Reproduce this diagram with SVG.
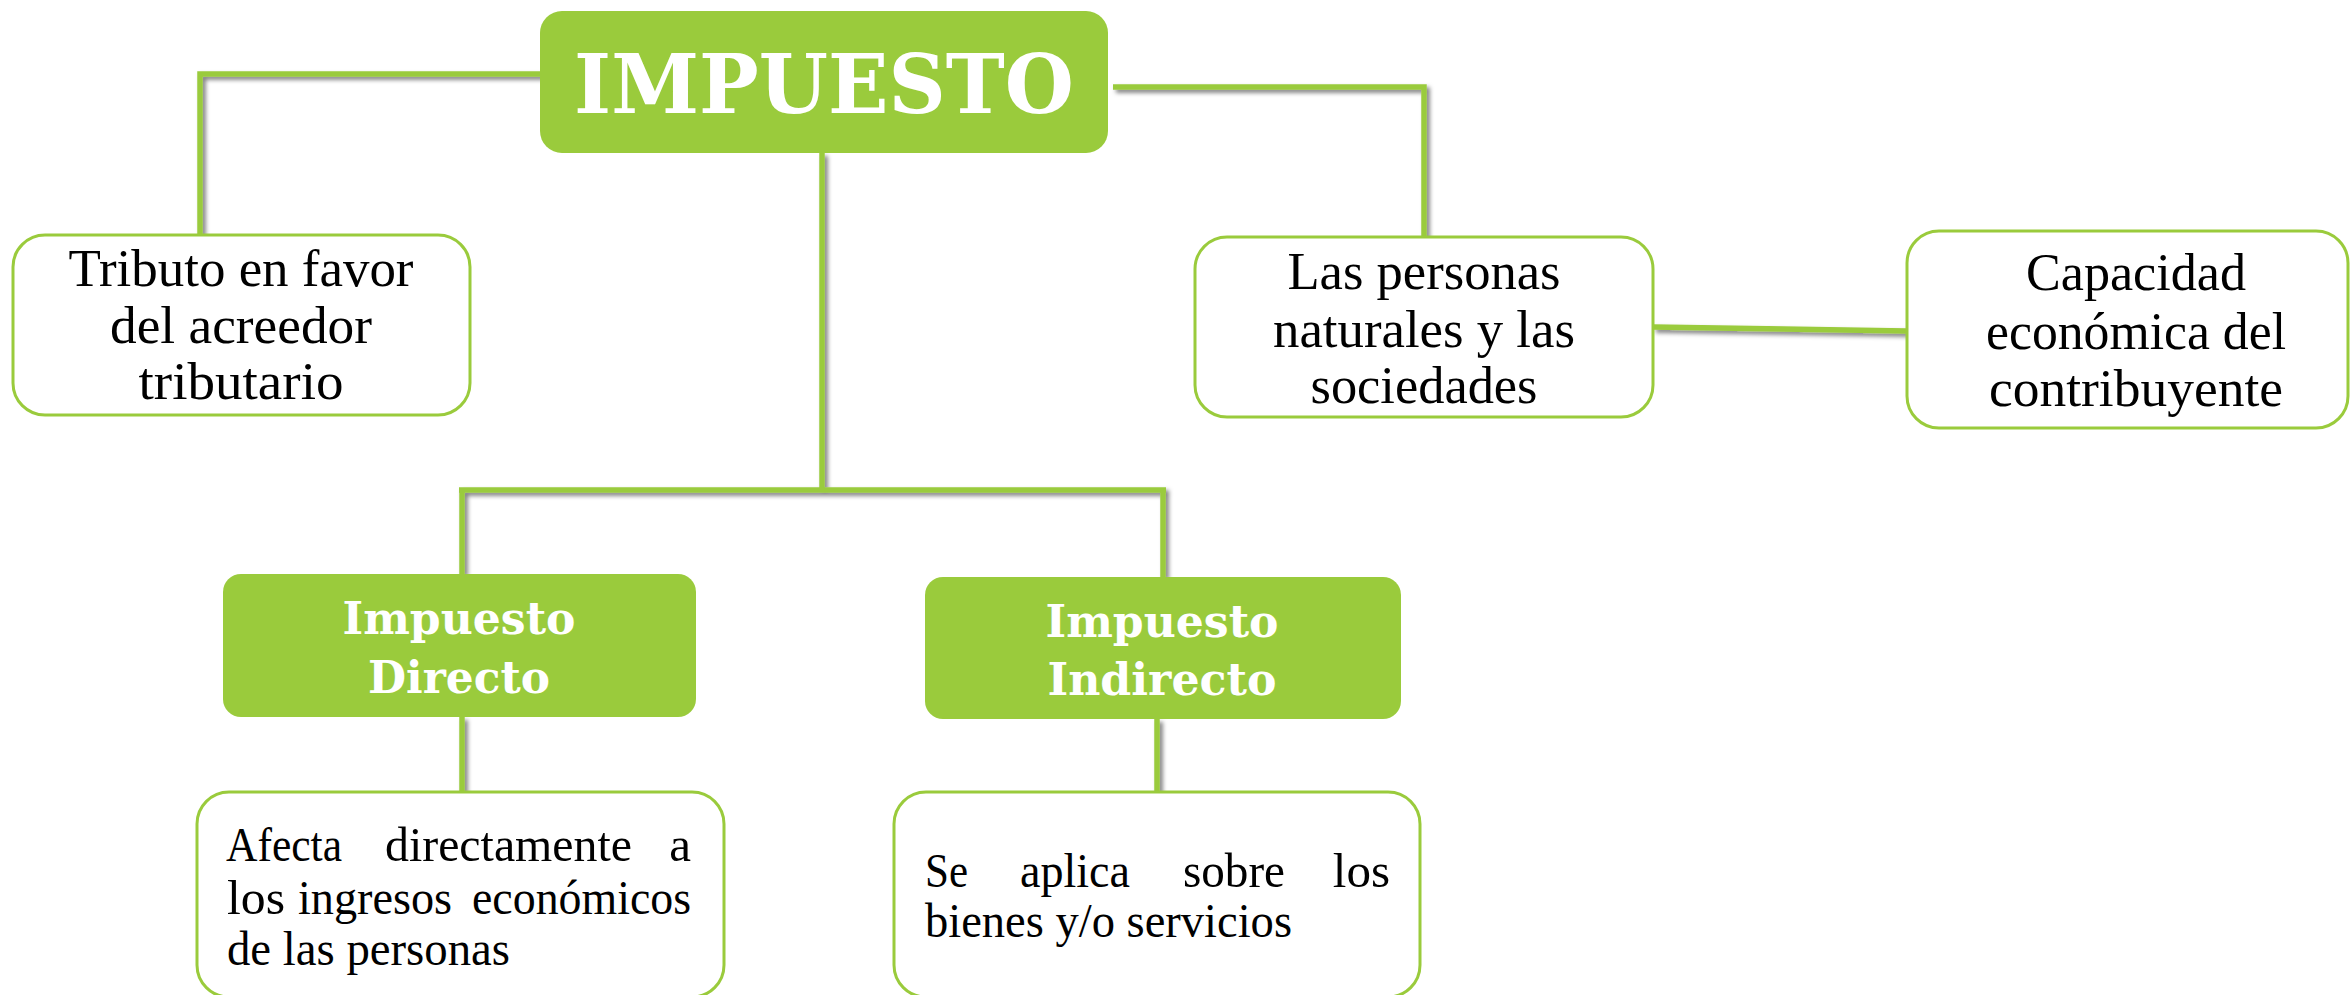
<svg xmlns="http://www.w3.org/2000/svg" width="2351" height="995" viewBox="0 0 2351 995">
<defs>
<filter id="sh" filterUnits="userSpaceOnUse" x="0" y="0" width="2351" height="995">
<feDropShadow dx="3" dy="3" stdDeviation="2" flood-color="#000" flood-opacity="0.5"/>
</filter>
</defs>
<style>
.conn{fill:none;stroke:#9ACB3C;stroke-width:5.5;}
.wbox{fill:#fff;stroke:#9ACB3C;stroke-width:3;}
.gbox{fill:#9ACB3C;}
.t{font-family:"Liberation Serif","Times New Roman",serif;fill:#000;text-anchor:middle;}
.s{text-anchor:start;}
.e{text-anchor:end;}
.t52{font-size:53px;}
.t47{font-size:49px;}
.b{font-family:"DejaVu Serif",Georgia,serif;font-weight:bold;fill:#fff;text-anchor:middle;font-size:44px;}
</style>
<rect width="2351" height="995" fill="#fff"/>
<g id="connectors" filter="url(#sh)">
<path class="conn" d="M542 74 H200 V236"/>
<path class="conn" d="M1113 87 H1424 V238"/>
<path class="conn" d="M822 153 V490"/>
<path class="conn" d="M459 490 H1166"/>
<path class="conn" d="M462 490 V574"/>
<path class="conn" d="M1163 490 V577"/>
<path class="conn" d="M462 717 V792"/>
<path class="conn" d="M1157 719 V792"/>
<path class="conn" d="M1653 327 L1907 331"/>
</g>
<g id="impuesto">
<rect class="gbox" x="540" y="11" width="568" height="142" rx="22"/>
<text class="b" x="824" y="113" style="font-size:82px" textLength="500" lengthAdjust="spacingAndGlyphs">IMPUESTO</text>
</g>
<g id="tributo">
<rect class="wbox" x="13" y="235" width="457" height="180" rx="32"/>
<text class="t t52" x="241" y="286" textLength="345" lengthAdjust="spacingAndGlyphs">Tributo en favor</text>
<text class="t t52" x="241" y="343" textLength="262" lengthAdjust="spacingAndGlyphs">del acreedor</text>
<text class="t t52" x="241" y="399" textLength="205" lengthAdjust="spacingAndGlyphs">tributario</text>
</g>
<g id="personas">
<rect class="wbox" x="1195" y="237" width="458" height="180" rx="32"/>
<text class="t t52" x="1424" y="289" textLength="273" lengthAdjust="spacingAndGlyphs">Las personas</text>
<text class="t t52" x="1424" y="347" textLength="302" lengthAdjust="spacingAndGlyphs">naturales y las</text>
<text class="t t52" x="1424" y="403" textLength="227" lengthAdjust="spacingAndGlyphs">sociedades</text>
</g>
<g id="capacidad">
<rect class="wbox" x="1907" y="231" width="441" height="197" rx="32"/>
<text class="t t52" x="2136" y="290" textLength="220" lengthAdjust="spacingAndGlyphs">Capacidad</text>
<text class="t t52" x="2136" y="349" textLength="300" lengthAdjust="spacingAndGlyphs">económica del</text>
<text class="t t52" x="2136" y="406" textLength="294" lengthAdjust="spacingAndGlyphs">contribuyente</text>
</g>
<g id="directo">
<rect class="gbox" x="223" y="574" width="473" height="143" rx="18"/>
<text class="b" x="459" y="634" textLength="233" lengthAdjust="spacingAndGlyphs">Impuesto</text>
<text class="b" x="459" y="693" textLength="182" lengthAdjust="spacingAndGlyphs">Directo</text>
</g>
<g id="indirecto">
<rect class="gbox" x="925" y="577" width="476" height="142" rx="18"/>
<text class="b" x="1162" y="637" textLength="233" lengthAdjust="spacingAndGlyphs">Impuesto</text>
<text class="b" x="1162" y="695" textLength="229" lengthAdjust="spacingAndGlyphs">Indirecto</text>
</g>
<g id="afecta">
<rect class="wbox" x="197" y="792" width="527" height="205" rx="32"/>
<text class="t t47 s" x="226" y="861" textLength="116" lengthAdjust="spacingAndGlyphs">Afecta</text>
<text class="t t47 s" x="385" y="861" textLength="247" lengthAdjust="spacingAndGlyphs">directamente</text>
<text class="t t47 e" x="691" y="861">a</text>
<text class="t t47 s" x="227" y="914" textLength="58" lengthAdjust="spacingAndGlyphs">los</text>
<text class="t t47 s" x="298" y="914" textLength="154" lengthAdjust="spacingAndGlyphs">ingresos</text>
<text class="t t47 s" x="472" y="914" textLength="219" lengthAdjust="spacingAndGlyphs">económicos</text>
<text class="t t47 s" x="227" y="965" textLength="283" lengthAdjust="spacingAndGlyphs">de las personas</text>
</g>
<g id="aplica">
<rect class="wbox" x="894" y="792" width="526" height="205" rx="32"/>
<text class="t t47 s" x="925" y="887" textLength="43" lengthAdjust="spacingAndGlyphs">Se</text>
<text class="t t47 s" x="1020" y="887" textLength="110" lengthAdjust="spacingAndGlyphs">aplica</text>
<text class="t t47 s" x="1183" y="887" textLength="102" lengthAdjust="spacingAndGlyphs">sobre</text>
<text class="t t47 e" x="1390" y="887">los</text>
<text class="t t47 s" x="925" y="937" textLength="367" lengthAdjust="spacingAndGlyphs">bienes y/o servicios</text>
</g>
</svg>
